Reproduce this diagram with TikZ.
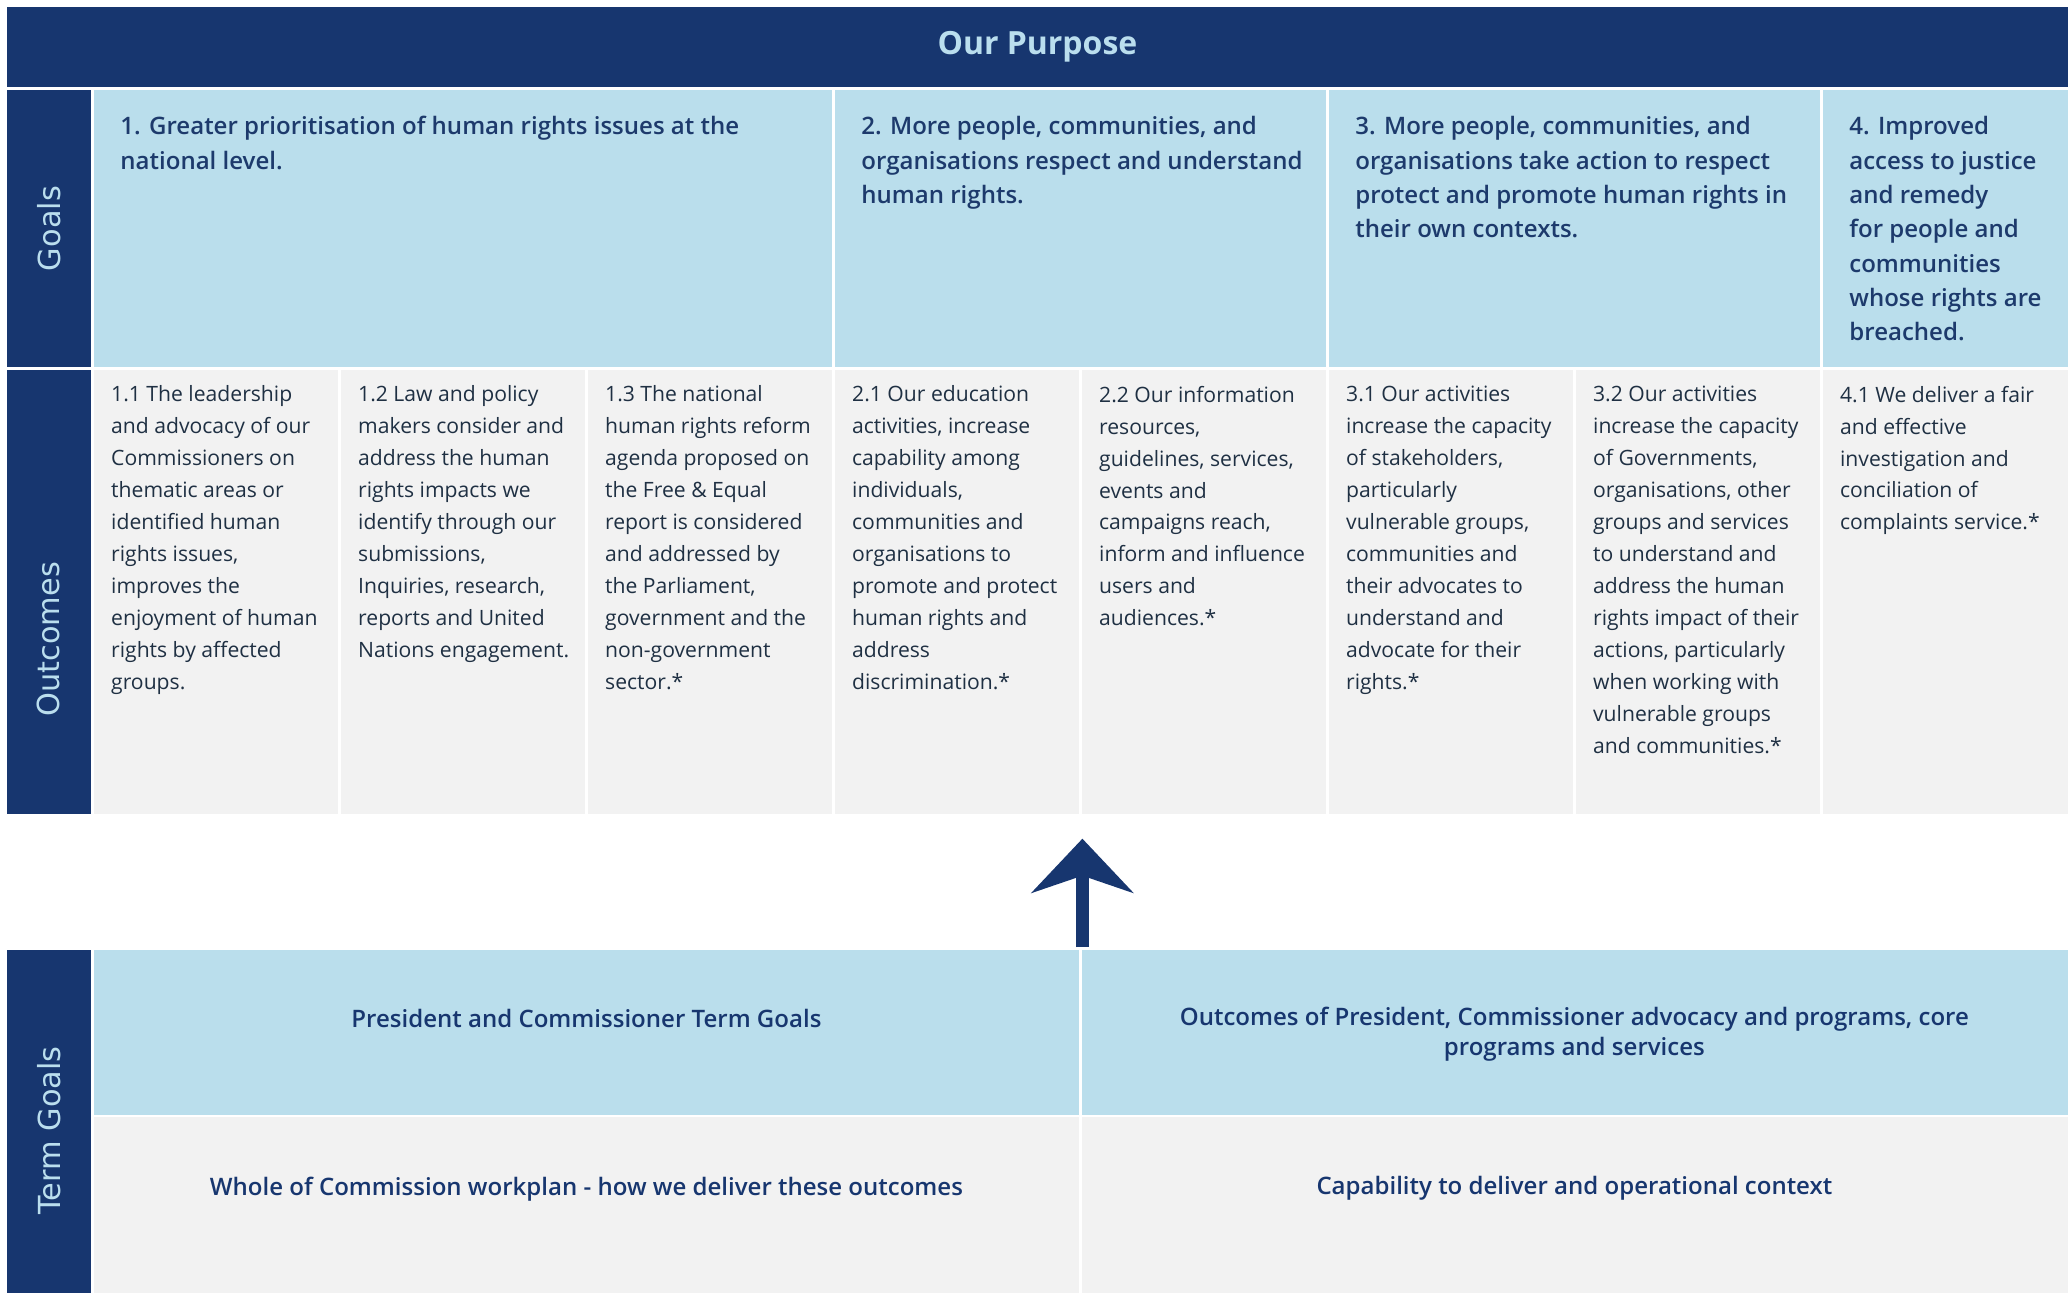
\documentclass[tikz,border=0pt]{standalone}
\usepackage{fontspec}
\setmainfont{Open Sans}
\newfontfamily\labelfont{DejaVu Sans}
\IfFontExistsTF{Open Sans SemiBold}{%
  \newfontfamily\semib{Open Sans SemiBold}[Scale=1.04]}{%
  \IfFontExistsTF{Open Sans Semibold}{%
    \newfontfamily\semib{Open Sans Semibold}[Scale=1.04]}{%
    \newcommand\semib{\bfseries}}}
\usetikzlibrary{arrows.meta}
\definecolor{navy}{HTML}{17366F}
\definecolor{lightblue}{HTML}{BADEEC}
\definecolor{cellgrey}{HTML}{F2F2F2}
\definecolor{labeltext}{HTML}{BADEEE}
\definecolor{goaltext}{HTML}{1D3A6C}
\definecolor{outtext}{HTML}{1F3043}
\begin{document}
\begin{tikzpicture}[x=1pt,y=-1pt,
  cell/.style 2 args={anchor=north west, inner sep=0pt, outer sep=0pt, minimum width=#1pt, minimum height=#2pt},
  bluecell/.style={fill=lightblue},
  greycell/.style={fill=cellgrey},
  navycell/.style={fill=navy},
  sidelabel/.style={rotate=90, text=labeltext, font=\labelfont\fontsize{23}{28}\selectfont, inner sep=0pt},
  goaltxt/.style={anchor=north west, inner sep=0pt, align=left, text=goaltext, font=\semib\fontsize{17.5}{26}\selectfont},
  outtxt/.style={anchor=north west, inner sep=0pt, align=left, text=outtext, font=\fontsize{16}{24.2}\selectfont},
  termtxt/.style={inner sep=0pt, align=center, text=navy, font=\semib\fontsize{17.5}{22}\selectfont}
]
\fill[white] (0,0) rectangle (1568,979);
\useasboundingbox (0,0) rectangle (1568,979);

% header
\node[cell={1561}{61}, navycell, text=labeltext, font=\bfseries\fontsize{24.2}{28}\selectfont] (purpose) at (5,5) {Our Purpose};

% side labels
\node[cell={64}{210}, navycell] (goalslbl) at (5,68) {};
\node[sidelabel] (goalstxt) at (37,173) {Goals};
\node[cell={64}{336}, navycell] (outlbl) at (5,280) {};
\node[sidelabel] (outtxtlbl) at (37,484) {Outcomes};
\node[cell={64}{260}, navycell] (termlbl) at (5,719) {};
\node[sidelabel] (termtxtlbl) at (37,856) {Term Goals};

% goals
\node[cell={559}{210}, bluecell] (g1) at (71,68) {};
\node[cell={372}{210}, bluecell] (g2) at (632,68) {};
\node[cell={372}{210}, bluecell] (g3) at (1006,68) {};
\node[cell={186}{210}, bluecell] (g4) at (1380,68) {};
\node[goaltxt] (g1t) at ([shift={(20,20)}]g1.north west) {1. Greater prioritisation of human rights issues at the\\national level.};
\node[goaltxt] (g2t) at ([shift={(20,20)}]g2.north west) {2. More people, communities, and\\organisations respect and understand\\human rights.};
\node[goaltxt] (g3t) at ([shift={(20,20)}]g3.north west) {3. More people, communities, and\\organisations take action to respect\\protect and promote human rights in\\their own contexts.};
\node[goaltxt] (g4t) at ([shift={(20,20)}]g4.north west) {4. Improved\\access to justice\\and remedy\\for people and\\communities\\whose rights are\\breached.};

% outcomes
\node[cell={185}{336}, greycell] (o11) at (71,280) {};
\node[cell={185}{336}, greycell] (o12) at (258,280) {};
\node[cell={185}{336}, greycell] (o13) at (445,280) {};
\node[cell={185}{336}, greycell] (o21) at (632,280) {};
\node[cell={185}{336}, greycell] (o22) at (819,280) {};
\node[cell={185}{336}, greycell] (o31) at (1006,280) {};
\node[cell={185}{336}, greycell] (o32) at (1193,280) {};
\node[cell={186}{336}, greycell] (o41) at (1380,280) {};
\node[outtxt] (o11t) at ([shift={(13,12)}]o11.north west) {1.1 The leadership\\and advocacy of our\\Commissioners on\\thematic areas or\\identified human\\rights issues,\\improves the\\enjoyment of human\\rights by affected\\groups.};
\node[outtxt] (o12t) at ([shift={(13,12)}]o12.north west) {1.2 Law and policy\\makers consider and\\address the human\\rights impacts we\\identify through our\\submissions,\\Inquiries, research,\\reports and United\\Nations engagement.};
\node[outtxt] (o13t) at ([shift={(13,12)}]o13.north west) {1.3 The national\\human rights reform\\agenda proposed on\\the Free \& Equal\\report is considered\\and addressed by\\the Parliament,\\government and the\\non-government\\sector.*};
\node[outtxt] (o21t) at ([shift={(13,12)}]o21.north west) {2.1 Our education\\activities, increase\\capability among\\individuals,\\communities and\\organisations to\\promote and protect\\human rights and\\address\\discrimination.*};
\node[outtxt] (o22t) at ([shift={(13,12)}]o22.north west) {2.2 Our information\\resources,\\guidelines, services,\\events and\\campaigns reach,\\inform and influence\\users and\\audiences.*};
\node[outtxt] (o31t) at ([shift={(13,12)}]o31.north west) {3.1 Our activities\\increase the capacity\\of stakeholders,\\particularly\\vulnerable groups,\\communities and\\their advocates to\\understand and\\advocate for their\\rights.*};
\node[outtxt] (o32t) at ([shift={(13,12)}]o32.north west) {3.2 Our activities\\increase the capacity\\of Governments,\\organisations, other\\groups and services\\to understand and\\address the human\\rights impact of their\\actions, particularly\\when working with\\vulnerable groups\\and communities.*};
\node[outtxt] (o41t) at ([shift={(13,12)}]o41.north west) {4.1 We deliver a fair\\and effective\\investigation and\\conciliation of\\complaints service.*};

% term goals
\node[cell={746}{125}, bluecell] (tb1) at (71,719) {};
\node[cell={747}{125}, bluecell] (tb2) at (819,719) {};
\node[cell={746}{133}, greycell] (tg1) at (71,846) {};
\node[cell={747}{133}, greycell] (tg2) at (819,846) {};
\node[termtxt] (tb1t) at (444,771) {President and Commissioner Term Goals};
\node[termtxt] (tb2t) at (1192,783) {Outcomes of President, Commissioner advocacy and programs, core\\programs and services};
\node[termtxt] (tg1t) at (444,900) {Whole of Commission workplan - how we deliver these outcomes};
\node[termtxt] (tg2t) at (1192,900) {Capability to deliver and operational context};

% arrow
\coordinate (arrowbase) at (819.5,717);
\coordinate (arrowtip) at (819.5,635);
\draw[navy, line width=9.3pt, -{Stealth[length=41pt, width=77pt, inset=13pt]}] (arrowbase) -- (arrowtip);
\end{tikzpicture}
\end{document}
